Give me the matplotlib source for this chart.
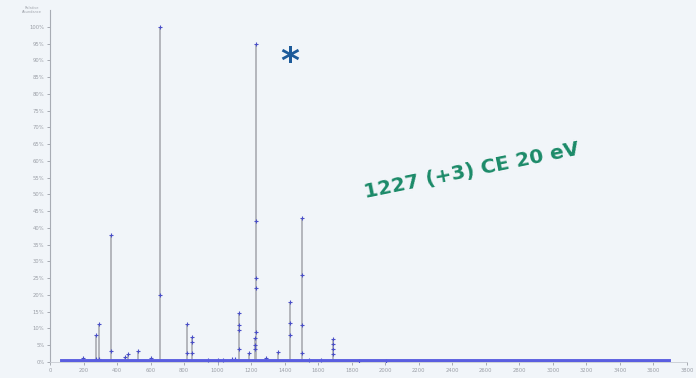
import numpy as np
import matplotlib
matplotlib.use("Agg")
from matplotlib import pyplot as plt

# main peaks (m/z, relative intensity %)
peak_mz = [196, 274, 292, 363, 446, 464, 524, 601, 655, 815, 845, 940, 1000,
           1030, 1083, 1101, 1125, 1190, 1220, 1227, 1286, 1363, 1429, 1506,
           1548, 1619, 1690, 1845, 2006]
peak_int = [1.2, 8, 11.3, 38, 1.5, 2.3, 3.2, 1.1, 100, 11.2, 7.6, 0.6, 0.5,
            0.5, 1.0, 1.0, 14.5, 2.8, 7.2, 95, 1.2, 3.0, 18, 43,
            0.6, 0.5, 7.0, 0.3, 0.3]

# extra markers on top of overlapping peaks
sub_mz = [274, 292, 363, 655, 815, 845, 845, 1125, 1125, 1125, 1220, 1220,
          1227, 1227, 1227, 1227, 1429, 1429, 1506, 1506, 1506, 1690, 1690, 1690]
sub_int = [0.8, 1.0, 3.2, 20, 2.6, 6.0, 2.7, 11, 9.5, 4, 5.2, 4.0,
           42, 25, 22, 9, 11.6, 8, 26, 11, 2.7, 5.5, 4.0, 2.5]

baseline_mz = [70, 3690]
xticks = np.arange(0, 3801, 200)
yticks = np.arange(0, 101, 5)

fig = plt.figure(figsize=(6.96, 3.78), dpi=100)
fig.patch.set_facecolor("#f1f5f9")
ax = fig.add_axes([50 / 696, 16 / 378, 637 / 696, 352 / 378])
ax.set_facecolor("none")

ax.vlines(peak_mz, 0, peak_int, color="#a9abb2", lw=1.2, zorder=2)
ax.plot(peak_mz, peak_int, "+", color="#4a4fc8", ms=3, mew=0.8, zorder=3)
ax.plot(sub_mz, sub_int, "+", color="#4a4fc8", ms=3, mew=0.8, zorder=3)
ax.plot(baseline_mz, [0.2, 0.2], color="#5a5ee0", lw=2.8, zorder=4)

ax.set_xlim(0, 3800)
ax.set_ylim(0, 105)
ax.set_xticks(xticks)
ax.set_xticklabels([str(v) for v in xticks])
ax.set_yticks(yticks)
ax.set_yticklabels([str(v) + "%" for v in yticks])
ax.tick_params(labelsize=3.8, colors="#9a9ea6", length=2, width=0.6, pad=2)
for s in ["top", "right"]:
    ax.spines[s].set_visible(False)
ax.spines["left"].set_color("#a8acb4")
ax.spines["bottom"].set_color("#c8ccd2")
ax.spines["left"].set_linewidth(0.8)
ax.spines["bottom"].set_linewidth(0.6)

fig.text(32 / 696, 1 - 10 / 378, "Relative\nAbundance", fontsize=2.5,
         color="#a0a4ac", ha="center", va="center")
fig.text(290 / 696, 1 - 62 / 378, "*", fontsize=26, color="#1d5b9a",
         ha="center", va="center", fontweight="bold", family="DejaVu Sans")
fig.text(472 / 696, 1 - 171 / 378, "1227 (+3) CE 20 eV", fontsize=14.5,
         color="#1b8a68", fontweight="bold", rotation=11.5,
         ha="center", va="center", family="DejaVu Sans")

fig.savefig("out.png", dpi=100, facecolor=fig.get_facecolor())
